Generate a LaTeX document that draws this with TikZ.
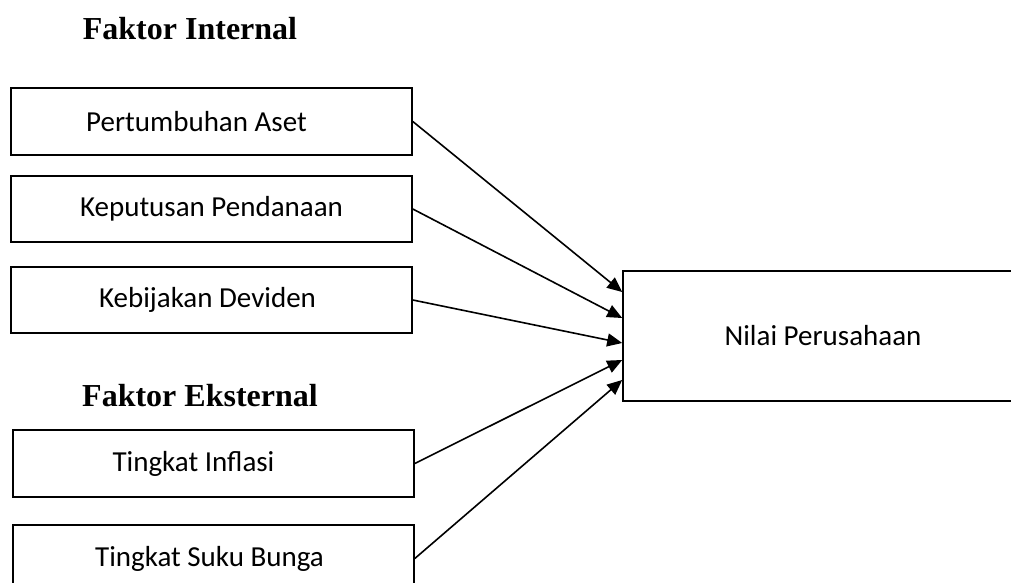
\documentclass[tikz,border=0pt]{standalone}
\usepackage{fontspec}
\setmainfont{Liberation Serif}
\newfontfamily\calibri{Carlito}
\usetikzlibrary{arrows.meta, positioning}
\newcommand\boxfont{\calibri\fontsize{29}{34}\selectfont}
\newcommand\headfont{\rmfamily\bfseries\fontsize{32}{38}\selectfont}
\tikzset{
  box/.style   = {draw, line width=1.6pt, minimum width=401pt, minimum height=66.5pt,
                  inner sep=0pt, font=\boxfont},
  lbl/.style   = {font=\boxfont, inner sep=0pt},
  head/.style  = {font=\headfont, anchor=base, inner sep=0pt},
  arrow/.style = {-{Triangle[length=15pt, width=13pt]}, line width=1.6pt},
}
\begin{document}
\begin{tikzpicture}[x=1pt, y=-1pt]
  \useasboundingbox (0,0) rectangle (1011,583);

  % headings
  \node[head] (internal) at (190,40) {Faktor Internal};
  \node[head] (eksternal) at (200,406) {Faktor Eksternal};

  % left boxes
  \foreach \n/\x/\y/\s/\t in {aset/211.5/121.5/-15/Pertumbuhan Aset,
                              dana/211.5/209/0/Keputusan Pendanaan,
                              deviden/211.5/300/-4/Kebijakan Deviden,
                              inflasi/213.5/463.5/-20/Tingkat Inflasi,
                              bunga/213.5/558.5/-4/Tingkat Suku Bunga} {
    \node[box, label={[lbl, xshift=\s pt]center:\t}] (\n) at (\x,\y) {};
  }

  % target box, runs past the right edge
  \node[box, minimum width=400pt, minimum height=130pt] (nilai) at (823,336) {Nilai Perusahaan};

  % arrows into the target
  \foreach \n/\d in {aset/44, dana/18, deviden/-7, inflasi/-24, bunga/-44} {
    \draw[arrow] (\n.east) -- ([yshift=\d pt]nilai.west);
  }

\end{tikzpicture}
\end{document}
